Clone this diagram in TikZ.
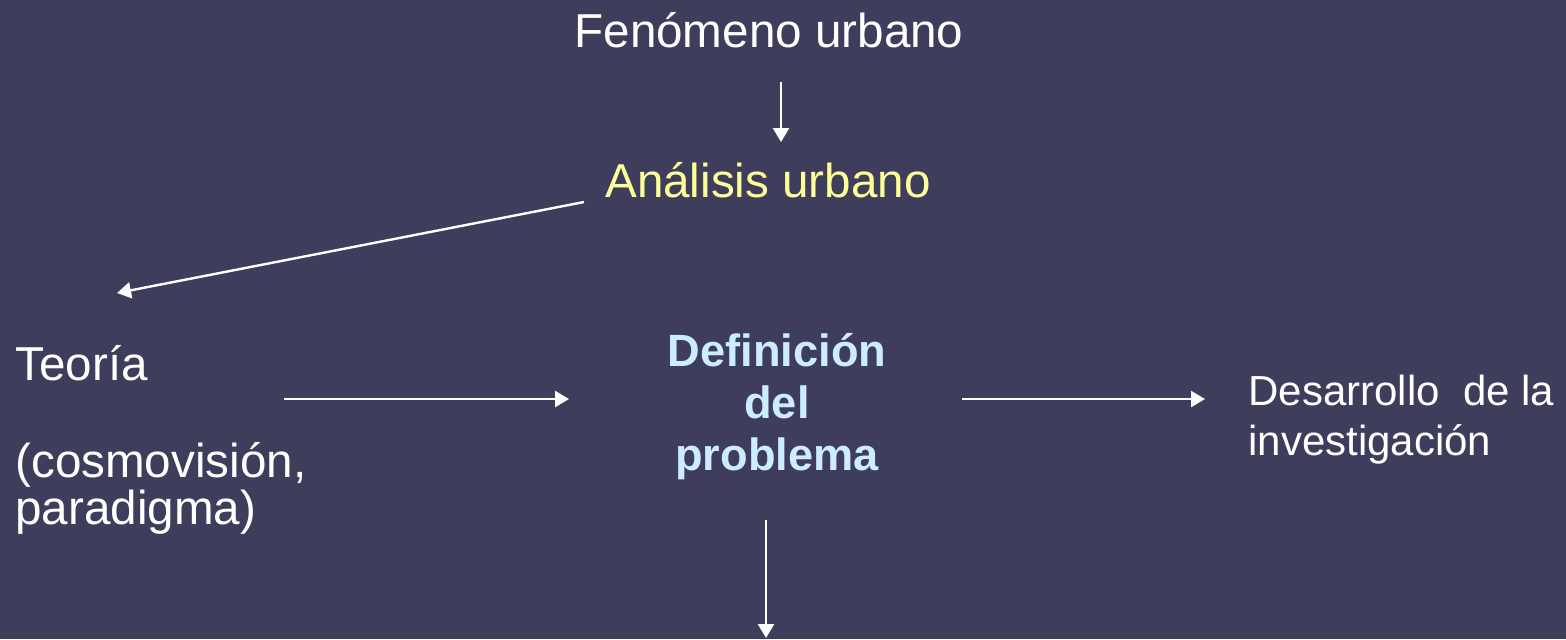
\documentclass[tikz,border=0pt]{standalone}
\usepackage{fontspec}
\setmainfont{Liberation Sans}
\usepackage{xcolor}
\usepackage{tikz}
\usetikzlibrary{positioning, arrows.meta, calc}
\definecolor{fondo}{HTML}{3F3D5C}
\definecolor{amarillo}{HTML}{FFFF99}
\definecolor{celeste}{HTML}{CCECFF}

\tikzset{
  texto/.style={text=white, inner sep=0pt, font=\fontsize{23.8}{23.5}\selectfont},
  flecha/.style={draw=white, line width=1.2pt, -{Triangle[length=7pt, width=8pt]}}
}

\begin{document}
\begin{tikzpicture}[x=0.5pt, y=-0.5pt]
    \fill[fondo] (0,0) rectangle (1566,639);
    \useasboundingbox (0,0) rectangle (1566,639);

    \node[texto, anchor=base] (fenomeno) at (769,47) {Fenómeno urbano};
    \node[texto, anchor=base, text=amarillo] (analisis) at (768,197) {Análisis urbano};
    \node[texto, anchor=base west] (teoria) at (15,380) {Teoría};
    \node[texto, anchor=base west, align=left] (cosmo) at (15,524) {(cosmovisión,\\paradigma)};
    \node[texto, anchor=base, align=center, text=celeste,
          font=\fontsize{22.6}{26}\selectfont\bfseries] (defin) at (777,470) {Definición\\del\\problema};
    \node[texto, anchor=base west, align=left,
          font=\fontsize{21}{25}\selectfont] (desarrollo) at (1248,455) {Desarrollo~ de la\\investigación};

    % puntas libres de las flechas
    \coordinate (fen-s) at (781,82);
    \coordinate (fen-e) at (781,142);
    \coordinate (ana-s) at (584,202);
    \coordinate (ana-e) at (117,293);
    \coordinate (teo-s) at (284,399);
    \coordinate (teo-e) at (569,399);
    \coordinate (def-s) at (962,399);
    \coordinate (def-e) at (1205,399);
    \coordinate (baj-s) at (766,520);
    \coordinate (baj-e) at (766,638);

    \draw[flecha] (fen-s) -- (fen-e);
    \draw[flecha] (ana-s) -- (ana-e);
    \draw[flecha] (teo-s) -- (teo-e);
    \draw[flecha] (def-s) -- (def-e);
    \draw[flecha] (baj-s) -- (baj-e);
  \end{tikzpicture}
\end{document}
